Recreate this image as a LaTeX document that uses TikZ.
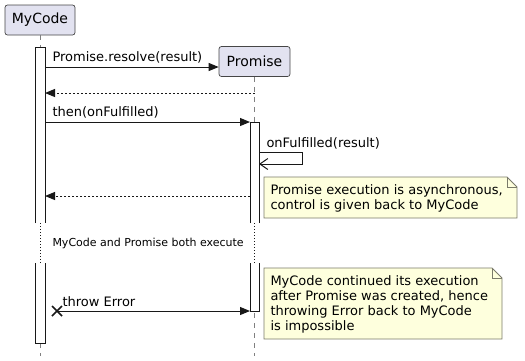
\documentclass[tikz,border=0pt]{standalone}
\usepackage{fontspec}
\setmainfont{DejaVu Sans}
\usepackage{tikz}
\usetikzlibrary{arrows.meta,positioning,calc}
\usepackage{xcolor}
\definecolor{PartFill}{HTML}{E2E2F0}
\definecolor{Ink}{HTML}{181818}
\definecolor{NoteFill}{HTML}{FEFFDD}
\definecolor{NoteEdge}{HTML}{7A7A6A}
\definecolor{LifeGray}{HTML}{808080}

\begin{document}
\begin{tikzpicture}[x=1pt,y=-1pt,line width=1pt,
  every node/.style={font=\fontsize{13}{15}\selectfont,inner sep=0pt,text=black},
  partbox/.style={draw=Ink!80,line width=0.7pt,fill=PartFill,rounded corners=2.5pt,minimum width=70pt,minimum height=30pt,font=\fontsize{14}{16}\selectfont},
  actbar/.style={draw=Ink,fill=white},
  life/.style={draw=LifeGray,line width=0.8pt,dash pattern=on 5pt off 5pt},
  pause/.style={draw=Ink,line width=0.8pt,dash pattern=on 1pt off 2pt},
  call/.style={draw=Ink,-{Triangle[length=10pt,width=8pt]}},
  reply/.style={call,dash pattern=on 2pt off 2pt},
  async/.style={draw=Ink,-{Straight Barb[length=8pt,width=11pt,line width=1pt]}},
  notebox/.style={draw=NoteEdge,fill=NoteFill,line width=0.8pt},
  msglabel/.style={anchor=west}]
  \useasboundingbox (0,0) rectangle (525,360);
  % participants
  \node[partbox] (mycode) at (40,20) {MyCode};
  \node[partbox,minimum width=71pt] (promise) at (254.5,61.5) {Promise};
  % lifelines, cut by the delay
  \foreach \p/\x in {mycode/40,promise/254.5}{
    \coordinate (\p Cut) at (\x,223);
    \coordinate (\p Back) at (\x,263);
    \coordinate (\p End) at (\x,356);
    \draw[life] (\p.south) -- (\p Cut);
    \draw[pause] (\p Cut) -- (\p Back);
    \draw[life] (\p Back) -- (\p End);
  }
  % activations
  \draw[actbar] (35,223) -- (35,47) -- (45,47) -- (45,223);
  \draw[actbar] (35,263) -- (35,343) -- (45,343) -- (45,263);
  \draw[actbar] (250,223) -- (250,122) -- (259,122) -- (259,223);
  \draw[actbar] (250,263) -- (250,311) -- (259,311) -- (259,263);
  % messages
  \coordinate (m1a) at (45,67);
  \coordinate (m2a) at (254.5,93);  \coordinate (m2b) at (45,93);
  \coordinate (m3a) at (45,122);    \coordinate (m3b) at (250,122);
  \coordinate (m4a) at (259,152);   \coordinate (m4b) at (259,164);
  \coordinate (m5a) at (250,196);   \coordinate (m5b) at (45,196);
  \coordinate (lost) at (57,311);   \coordinate (m6b) at (250,311);
  \draw[call] (m1a) -- (m1a -| promise.west);
  \node[msglabel] (lbl1) at (52,57) {Promise.resolve(result)};
  \draw[reply] (m2a) -- (m2b);
  \draw[call] (m3a) -- (m3b);
  \node[msglabel] (lbl3) at (52,112) {then(onFulfilled)};
  \draw[async] (m4a) -- (302,152) -- (302,164) -- (m4b);
  \node[msglabel] (lbl4) at (266,143) {onFulfilled(result)};
  \draw[reply] (m5a) -- (m5b);
  % delay
  \node[msglabel,font=\fontsize{11}{13}\selectfont] (gap) at (52,243) {MyCode and Promise both execute};
  % lost message
  \draw[Ink,line width=1.6pt] ($(lost)+(-5,-5)$) -- ($(lost)+(5,5)$) ($(lost)+(-5,5)$) -- ($(lost)+(5,-5)$);
  \draw[call] (lost) -- (m6b);
  \node[msglabel] (lbl6) at (62,302) {throw Error};
  % notes
  \draw[notebox] (264,177) -- (507,177) -- (517,187) -- (517,218) -- (264,218) -- cycle;
  \draw[notebox,fill=none] (507,177) -- (507,187) -- (517,187);
  \node[anchor=west,align=left] (note1) at (270,198.5) {Promise execution is asynchronous,\\control is given back to MyCode};
  \draw[notebox] (264,268) -- (492,268) -- (502,278) -- (502,339) -- (264,339) -- cycle;
  \draw[notebox,fill=none] (492,268) -- (492,278) -- (502,278);
  \node[anchor=west,align=left] (note2) at (270,304.5) {MyCode continued its execution\\after Promise was created, hence\\throwing Error back to MyCode\\is impossible};
\end{tikzpicture}
\end{document}
